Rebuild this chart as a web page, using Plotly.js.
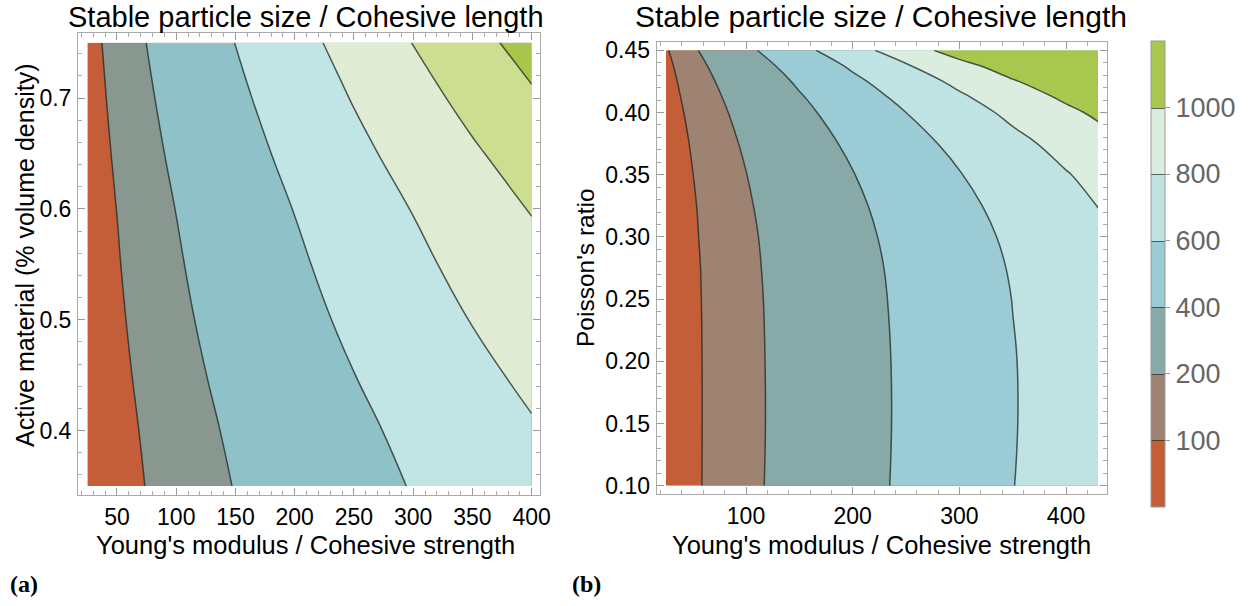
<!DOCTYPE html>
<html>
<head>
<meta charset="utf-8">
<script src="https://cdn.plot.ly/plotly-3.0.1.min.js"></script>
<style>html,body{margin:0;padding:0;background:#fff;}</style>
</head>
<body>
<div id="chart" style="width:1252px;height:606px;"></div>
<script>
// ---- data ----
const levels = [100, 200, 400, 600, 800, 1000];
const levelLabels = ['100', '200', '400', '600', '800', '1000'];

// panel (a): Young's modulus / cohesive strength vs active material fraction
const xA = [25, 50, 100, 150, 200, 250, 300, 350, 400];
const yA = [0.35, 0.40, 0.45, 0.50, 0.55, 0.60, 0.65, 0.70, 0.75];
const zA = [
  [34, 68, 136, 204, 272, 340, 408, 476, 544],
  [37, 73, 146, 219, 292, 365, 438, 511, 584],
  [40, 80, 159, 239, 318, 398, 477, 557, 636],
  [43, 87, 173, 260, 346, 433, 519, 606, 692],
  [47, 94, 187, 281, 374, 468, 561, 655, 748],
  [51, 101, 202, 303, 404, 505, 606, 707, 808],
  [56, 111, 222, 333, 444, 555, 666, 777, 888],
  [61, 122, 244, 366, 488, 610, 732, 854, 976],
  [67, 134, 268, 402, 536, 670, 804, 938, 1072]
];

// panel (b): Young's modulus / cohesive strength vs Poisson's ratio
const xB = [25, 50, 100, 150, 200, 250, 300, 350, 400, 430];
const yB = [0.10, 0.15, 0.20, 0.25, 0.275, 0.30, 0.325, 0.35, 0.375, 0.40, 0.4125, 0.425, 0.4375, 0.45];
const zB = [
  [43, 85, 171, 256, 341, 426, 512, 597, 682, 733],
  [42, 85, 169, 254, 338, 423, 507, 592, 676, 727],
  [42, 85, 170, 254, 339, 424, 509, 593, 678, 729],
  [43, 86, 172, 258, 344, 430, 516, 602, 688, 740],
  [44, 87, 175, 262, 349, 436, 524, 611, 698, 750],
  [45, 90, 179, 269, 358, 448, 537, 627, 716, 770],
  [47, 93, 187, 280, 373, 466, 560, 653, 746, 802],
  [49, 99, 198, 296, 395, 494, 593, 691, 790, 849],
  [54, 107, 215, 322, 429, 536, 644, 751, 858, 922],
  [60, 120, 240, 360, 480, 600, 720, 840, 960, 1032],
  [65, 129, 258, 387, 516, 645, 774, 903, 1032, 1109],
  [70, 141, 281, 422, 562, 703, 843, 984, 1124, 1208],
  [78, 157, 313, 470, 626, 783, 939, 1096, 1252, 1346],
  [91, 181, 362, 543, 724, 905, 1086, 1267, 1448, 1557]
];

const bandColorsA = ['#c45e38', '#88978f', '#8fc2c8', '#c1e4e4', '#dfecd3', '#cede90', '#a7c64a'];
const bandColorsB = ['#c45e38', '#9e8373', '#87aaa9', '#9bcbd4', '#bfe3e3', '#daeddf', '#a8c74e'];

const titleText = 'Stable particle size / Cohesive length';
const xTitleText = "Young's modulus / Cohesive strength";
const yTitleA = 'Active material (% volume density)';
const yTitleB = "Poisson's ratio";
const panelLabels = ['(a)', '(b)'];

// ---- build traces ----
const lineColor = 'rgba(30,40,36,0.75)';

function bandTraces(x, y, z, colors, xa, ya) {
  const out = [];
  const thresholds = [0].concat(levels);
  thresholds.forEach((v, i) => {
    out.push({
      type: 'contour', x: x, y: y, z: z, xaxis: xa, yaxis: ya,
      showscale: false, hoverinfo: 'skip',
      contours: { type: 'constraint', operation: '<', value: v },
      fillcolor: colors[i],
      line: { color: i === 0 ? 'rgba(0,0,0,0)' : lineColor, width: i === 0 ? 0 : 1.5, smoothing: 1.3 }
    });
  });
  return out;
}

const traces = [].concat(
  bandTraces(xA, yA, zA, bandColorsA, 'x', 'y'),
  bandTraces(xB, yB, zB, bandColorsB, 'x2', 'y2')
);

// colour legend (band index space, drawn on a hidden axis pair)
const nb = bandColorsB.length;
const cs = [];
bandColorsB.forEach((c, i) => { cs.push([i / nb, c]); cs.push([(i + 1) / nb, c]); });
const idx = bandColorsB.map((c, i) => i);
traces.push({
  type: 'contour', x: [0, 1], y: [0, 1], z: [[0, nb], [nb, 0]],
  xaxis: 'x3', yaxis: 'y3', hoverinfo: 'skip',
  zmin: 0, zmax: nb, colorscale: cs, autocontour: false,
  contours: { start: 1, end: nb - 1, size: 1, coloring: 'fill' },
  line: { color: 'rgba(40,40,40,0.7)', width: 1 },
  colorbar: {
    x: 1151 / 1252, xanchor: 'left', xpad: 0,
    y: 1 - 273.9 / 606, yanchor: 'middle', ypad: 0,
    len: (507 - 40.7) / 606, lenmode: 'fraction',
    thickness: 14, thicknessmode: 'pixels',
    outlinewidth: 1, outlinecolor: '#999',
    ticks: 'outside', ticklen: 5, tickcolor: '#999',
    tickvals: idx.slice(1), ticktext: levelLabels,
    tickfont: { family: 'Liberation Sans, Arial, sans-serif', size: 27, color: '#666' }
  }
});

// ---- layout ----
const tickFont = { family: 'Liberation Sans, Arial, sans-serif', size: 23, color: '#000' };
function axisBase(extra) {
  return Object.assign({
    showgrid: false, zeroline: false, showline: true, linecolor: '#aaa', linewidth: 1,
    mirror: 'ticks', ticks: 'inside', ticklen: 7, tickcolor: '#999', tickwidth: 1,
    tickfont: tickFont, ticklabelstandoff: 1
  }, extra);
}
function minorTicks(step) {
  return { ticks: 'inside', ticklen: 4, tickcolor: '#aaa', dtick: step, tick0: 0, showgrid: false };
}

const W = 1252, H = 606;
const layout = {
  width: W, height: H,
  margin: { l: 0, r: 0, t: 0, b: 0 },
  paper_bgcolor: '#fff', plot_bgcolor: '#fff',
  showlegend: false,
  font: { family: 'Liberation Sans, Arial, sans-serif', color: '#000' },
  xaxis: axisBase({ domain: [78 / W, 540 / W], range: [17.1, 407], anchor: 'y',
    tick0: 50, dtick: 50, minor: minorTicks(10) }),
  yaxis: axisBase({ domain: [1 - 495 / H, 1 - 33.3 / H], range: [0.3419, 0.7585], anchor: 'x',
    tick0: 0.4, dtick: 0.1, tickformat: '.1f', minor: minorTicks(0.02) }),
  xaxis2: axisBase({ domain: [656.6 / W, 1107 / W], range: [16.2, 438.4], anchor: 'y2',
    tick0: 100, dtick: 100, minor: minorTicks(20) }),
  yaxis2: axisBase({ domain: [1 - 494.3 / H, 1 - 41.8 / H], range: [0.0932, 0.4568], anchor: 'x2',
    tick0: 0.1, dtick: 0.05, tickformat: '.2f', minor: minorTicks(0.01) }),
  xaxis3: { domain: [0.995, 1], range: [10, 11], visible: false, anchor: 'y3' },
  yaxis3: { domain: [0.995, 1], range: [10, 11], visible: false, anchor: 'x3' },
  annotations: [
    { text: titleText, x: 306 / W, y: 1 - 17 / H, xref: 'paper', yref: 'paper', xanchor: 'center', yanchor: 'middle',
      showarrow: false, font: { size: 29 } },
    { text: titleText, x: 881 / W, y: 1 - 17 / H, xref: 'paper', yref: 'paper', xanchor: 'center', yanchor: 'middle',
      showarrow: false, font: { size: 30 } },
    { text: xTitleText, x: 305 / W, y: 1 - 545 / H, xref: 'paper', yref: 'paper', xanchor: 'center', yanchor: 'middle',
      showarrow: false, font: { size: 25.5 } },
    { text: xTitleText, x: 881 / W, y: 1 - 545 / H, xref: 'paper', yref: 'paper', xanchor: 'center', yanchor: 'middle',
      showarrow: false, font: { size: 25.5 } },
    { text: yTitleA, x: 25 / W, y: 1 - 256 / H, xref: 'paper', yref: 'paper', xanchor: 'center', yanchor: 'middle',
      textangle: -90, showarrow: false, font: { size: 25 } },
    { text: yTitleB, x: 585 / W, y: 1 - 268 / H, xref: 'paper', yref: 'paper', xanchor: 'center', yanchor: 'middle',
      textangle: -90, showarrow: false, font: { size: 24.5 } },
    { text: '<b>' + panelLabels[0] + '</b>', x: 24 / W, y: 1 - 584 / H, xref: 'paper', yref: 'paper', xanchor: 'center', yanchor: 'middle',
      showarrow: false, font: { size: 24, family: 'Liberation Serif, DejaVu Serif, serif' } },
    { text: '<b>' + panelLabels[1] + '</b>', x: 586 / W, y: 1 - 584 / H, xref: 'paper', yref: 'paper', xanchor: 'center', yanchor: 'middle',
      showarrow: false, font: { size: 24, family: 'Liberation Serif, DejaVu Serif, serif' } }
  ]
};

Plotly.newPlot('chart', traces, layout, { staticPlot: true, displayModeBar: false });
</script>
</body>
</html>
